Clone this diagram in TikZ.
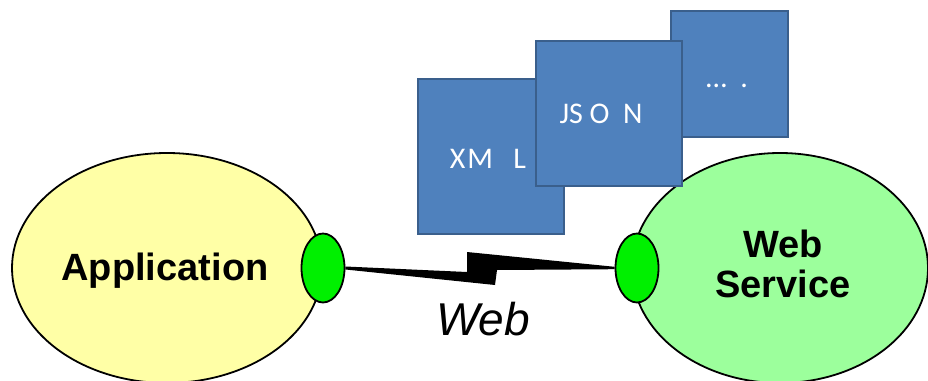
\documentclass[tikz,border=0pt]{standalone}
\usepackage{fontspec}
\setmainfont{Liberation Sans}
\newfontfamily\boxfont{Carlito}
\usetikzlibrary{shapes.geometric,calc}
\definecolor{appfill}{HTML}{FFFFA6}
\definecolor{wsfill}{HTML}{9CFF9C}
\definecolor{portfill}{HTML}{00F000}
\definecolor{boxfill}{HTML}{4F81BD}
\definecolor{boxline}{HTML}{3A5F8C}
\tikzset{
  bigell/.style={ellipse, draw=black, line width=1.8pt, inner sep=0pt},
  port/.style={ellipse, draw=black, line width=1.8pt, fill=portfill, inner sep=0pt, minimum width=43pt, minimum height=69pt},
  fmt/.style={draw=boxline, line width=1.6pt, fill=boxfill, inner sep=0pt},
  fmttext/.style={text=white, font=\boxfont\fontsize{30}{32}\selectfont, inner sep=0pt},
  bigtext/.style={font=\bfseries\fontsize{38}{40}\selectfont, align=center, inner sep=0pt},
}
\begin{document}
\begin{tikzpicture}[x=1pt,y=-1pt]
\useasboundingbox (0,0) rectangle (928,380);
% main ellipses
\node[bigell, fill=appfill, minimum width=310pt, minimum height=230pt] (app) at (167,268) {};
\node[bigell, fill=wsfill, minimum width=296pt, minimum height=230pt] (ws) at (780,268) {};
\node[bigtext, anchor=base] (apptext) at (165,280) {Application};
\node[bigtext, anchor=base] (wstext1) at (783,257) {Web};
\node[bigtext, anchor=base] (wstext2) at (783,297) {Service};
% format boxes
\node[fmt, minimum width=117pt, minimum height=126pt] (dots) at (729.5,74) {};
\node[fmt, minimum width=146pt, minimum height=155pt] (xml) at (491,156.5) {};
\node[fmt, minimum width=146pt, minimum height=145pt] (json) at (609,113.5) {};
\node[fmttext, anchor=base] at (488,168) {X\kern2ptM\ \ \ L};
\node[fmttext, anchor=base] at (601,123) {JS\ O\ \ N};
\node[fmttext, anchor=base] at (727,87) {\dots\ \ .};
% ports
\node[port] (lport) at (323,268) {};
\node[port] (rport) at (637,268) {};
% lightning connector
\fill[black] ($(lport.east)+(0,-1.5)$) -- (467,272) -- (467,252) -- ($(rport.west)+(0,-1.2)$)
  -- ($(rport.west)+(0,1.2)$) -- (497,270) -- (495,285) -- ($(lport.east)+(0,1.5)$) -- cycle;
\node[font=\itshape\fontsize{46}{48}\selectfont, anchor=base, inner sep=0pt] (web) at (483,335) {Web};
\end{tikzpicture}
\end{document}
